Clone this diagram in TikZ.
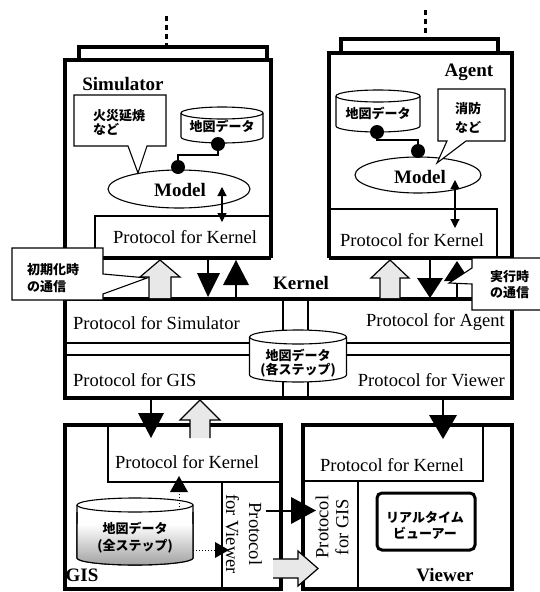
\documentclass[tikz,border=0pt]{standalone}
\usepackage{fontspec}
\setmainfont{Liberation Serif}
\newfontfamily\jpf{Noto Sans CJK JP}
\usetikzlibrary{arrows.meta}
\newcommand\mycyl[5]{%
 \filldraw[thn, fill=white] ({#1-#4},#2) -- ({#1-#4},#3) arc[start angle=180, end angle=0, x radius=#4, y radius=#5] -- ({#1+#4},#2) arc[start angle=0, end angle=-180, x radius=#4, y radius=#5] -- cycle;
 \draw[thn] ({#1-#4},#2) arc[start angle=180, end angle=0, x radius=#4, y radius=#5];
}
\begin{document}
\begin{tikzpicture}[x=1pt,y=-1pt,
 thk/.style={line width=3.5pt},
 thn/.style={line width=1.1pt},
 lat/.style={font=\fontsize{18.5}{20}\selectfont, inner sep=0pt},
 latb/.style={font=\fontsize{19}{20}\selectfont\bfseries, inner sep=0pt},
 jpt/.style={font=\jpf\bfseries\fontsize{13}{15}\selectfont, inner sep=0pt},
 hollowarrow/.style={draw, line width=1.2pt, fill=gray!18, line join=miter},
 dotl/.style={line width=1pt, dotted},
 stack/.style={line width=3pt, dash pattern=on 5pt off 4pt},
 dbl/.style={thn, {Triangle[length=9pt,width=9pt]}-{Triangle[length=9pt,width=9pt]}}
]
\clip (0,0) rectangle (540,592);
\fill[white] (0,0) rectangle (540,592);

% stacks above the top boxes
\draw[thk] (79,60) -- (79,47) -- (267,47) -- (267,60);
\draw[stack] (166,16) -- (166,45);
\draw[thk] (341,53) -- (341,39) -- (498,39) -- (498,53);
\draw[stack] (425,10) -- (425,37);

% Simulator / Agent / Kernel frames
\draw[thk] (65,398) -- (65,60) -- (271,60) -- (271,258);
\draw[thk] (65,258) -- (271,258);
\draw[thk] (329,258) -- (329,53) -- (512,53) -- (512,398);
\draw[thk] (329,258) -- (512,258);
\draw[thn] (95,258) -- (95,216) -- (271,216);
\draw[thn] (497,258) -- (497,209) -- (329,209);

% Kernel inner
\draw[thn] (65,343) -- (512,343);
\draw[thn] (65,355) -- (512,355);
\draw[thn] (283,299) -- (283,398);
\draw[thn] (308,299) -- (308,398);
\draw[thk] (65,299) -- (512,299);
\draw[thk] (63.25,398) -- (513.75,398);

% GIS / Viewer frames
\draw[thk] (65,425) rectangle (281,589);
\draw[thn] (108,425) -- (108,482) -- (281,482);
\draw[thn] (222,482) -- (222,589);
\draw[thk] (303,425) rectangle (512,589);
\draw[thn] (483,425) -- (483,481) -- (303,481);
\draw[thn] (358,481) -- (358,589);
\draw[line width=3pt, rounded corners=5pt] (377,493) rectangle (475,550);

% cylinders
\mycyl{222}{113}{137}{41}{6}
\mycyl{378}{96}{126}{42}{6}
\mycyl{298}{337}{375}{48.5}{7}
\mycyl{135}{505}{558}{58}{7}
\begin{scope}
 \clip (77,505) -- (77,558) arc[start angle=180, end angle=0, x radius=58, y radius=7] -- (193,505) -- cycle;
 \shade[top color=white, bottom color=gray!75] (77,524) rectangle (193,566);
\end{scope}
\draw[thn] (77,512) -- (77,558) arc[start angle=180, end angle=0, x radius=58, y radius=7] -- (193,512);

% Model ellipses
\draw[thn, fill=white] (179,189) ellipse [x radius=71, y radius=19];
\draw[thn, fill=white] (418,175) ellipse [x radius=63, y radius=18];

% connectors with dots
\draw[thn] (218,144) -- (218,155) -- (178,155) -- (178,169);
\fill (218,144) circle [radius=7];
\fill (178,167) circle [radius=7];
\draw[thn] (377,132) -- (377,140) -- (418,140) -- (418,152);
\fill (377,132) circle [radius=7];
\fill (418,151) circle [radius=7];

% speech callouts inside
\filldraw[thn, fill=white] (74,95) -- (166,95) -- (166,146) -- (147,146) -- (138,173) -- (128,146) -- (74,146) -- cycle;
\filldraw[thn, fill=white] (438,89) -- (505,89) -- (505,141) -- (466,141) -- (437,163) -- (447,141) -- (438,141) -- cycle;

% double arrows model <-> protocol
\draw[dbl] (222,187) -- (222,222);
\draw[dbl] (455,180) -- (455,228);

% band arrows (simulator)
\filldraw[hollowarrow] (149,298) -- (149,277) -- (140,277) -- (160,260) -- (180,277) -- (171,277) -- (171,298);
\draw[thn] (208,258) -- (208,274);
\fill (197,273) -- (220,273) -- (208,297) -- cycle;
\fill (223,285) -- (249,285) -- (236,260) -- cycle;
\draw[thn] (236,284) -- (236,299);
% band arrows (agent)
\filldraw[hollowarrow] (380,298) -- (380,278) -- (371,278) -- (390,260) -- (409,278) -- (400,278) -- (400,298);
\draw[thn] (430,258) -- (430,279);
\fill (417,278) -- (443,278) -- (430,298) -- cycle;
\fill (444,281) -- (470,281) -- (457,261) -- cycle;
\draw[thn] (457,280) -- (457,299);

% arrows below kernel
\draw[thn] (151,398) -- (151,414);
\fill (138,413) -- (164,413) -- (151,438) -- cycle;
\filldraw[hollowarrow] (190,438) -- (190,420) -- (180,420) -- (200,400) -- (220,420) -- (210,420) -- (210,438);
\draw[thn] (443,398) -- (443,416);
\fill (429,415) -- (457,415) -- (443,439) -- cycle;

% GIS -> Viewer arrows
\draw[thn] (266,511) -- (292,511);
\fill (291,497) -- (291,524) -- (316,510.5) -- cycle;
\filldraw[hollowarrow] (273,559) -- (298,559) -- (298,551) -- (318,568.5) -- (298,586) -- (298,578) -- (273,578);

% GIS internal dotted arrows
\draw[dotl] (179,507) -- (179,491);
\fill (170,492) -- (188,492) -- (179,476) -- cycle;
\draw[dotl] (193,550) -- (216,550);
\fill (215,542) -- (215,558) -- (229,550) -- cycle;

% Latin labels
\node[latb] (simlbl) at (123,84) {Simulator};
\node[latb] (aglbl) at (469,72) {Agent};
\node[latb] (simmodel) at (180,190) {Model};
\node[latb] (agmodel) at (420,177) {Model};
\node[lat] (simpk) at (185,237) {Protocol for Kernel};
\node[lat] (agpk) at (412,240) {Protocol for Kernel};
\node[latb] (kernel) at (301,283) {Kernel};
\node[lat, anchor=west] (pfs) at (73,323) {Protocol for Simulator};
\node[lat, anchor=east] (pfa) at (505,322) {Protocol for Agent};
\node[lat, anchor=west] (pfg) at (73,380) {Protocol for GIS};
\node[lat, anchor=east] (pfv) at (505,380) {Protocol for Viewer};
\node[lat] (gispk) at (187,462) {Protocol for Kernel};
\node[lat] (viewpk) at (392,465) {Protocol for Kernel};
\node[lat, align=center, rotate=-90, font=\fontsize{18.5}{23}\selectfont] (gispv) at (244,534) {Protocol\\for Viewer};
\node[lat, align=center, rotate=90, font=\fontsize{18.5}{20}\selectfont] (viewpg) at (332,527) {Protocol\\for GIS};
\node[latb] (gislbl) at (82,575) {GIS};
\node[latb] (viewlbl) at (445,575) {Viewer};

% Japanese labels
\node[jpt, anchor=west] (simc1) at (93,116) {火災延焼};
\node[jpt, anchor=west] (simc2) at (93,129) {など};
\node[jpt] (simcyl) at (222,126) {地図データ};
\node[jpt] (agcyl) at (378,113) {地図データ};
\node[jpt, anchor=west] (agc1) at (455,109) {消防};
\node[jpt, anchor=west] (agc2) at (455,127) {など};
\node[jpt] (kc1) at (298,355) {地図データ};
\node[jpt] (kc2) at (298,370) {(各ステップ)};
\node[jpt] (gc1) at (135,528) {地図データ};
\node[jpt] (gc2) at (135,546) {(全ステップ)};
\node[jpt] (rt1) at (425,517) {リアルタイム};
\node[jpt] (rt2) at (425,533) {ビューアー};

% outer callouts
\filldraw[thn, fill=white] (12,248) -- (103,248) -- (103,274) -- (147,278) -- (103,294) -- (103,300) -- (12,300) -- cycle;
\node[jpt, anchor=west] (init1) at (27,270) {初期化時};
\node[jpt, anchor=west] (init2) at (27,287) {の通信};
\filldraw[thn, fill=white] (472,258) -- (548,258) -- (548,310) -- (472,310) -- (472,284) -- (449,283) -- (472,268) -- cycle;
\node[jpt, anchor=west] (run1) at (490,277) {実行時};
\node[jpt, anchor=west] (run2) at (490,293) {の通信};
\end{tikzpicture}
\end{document}
